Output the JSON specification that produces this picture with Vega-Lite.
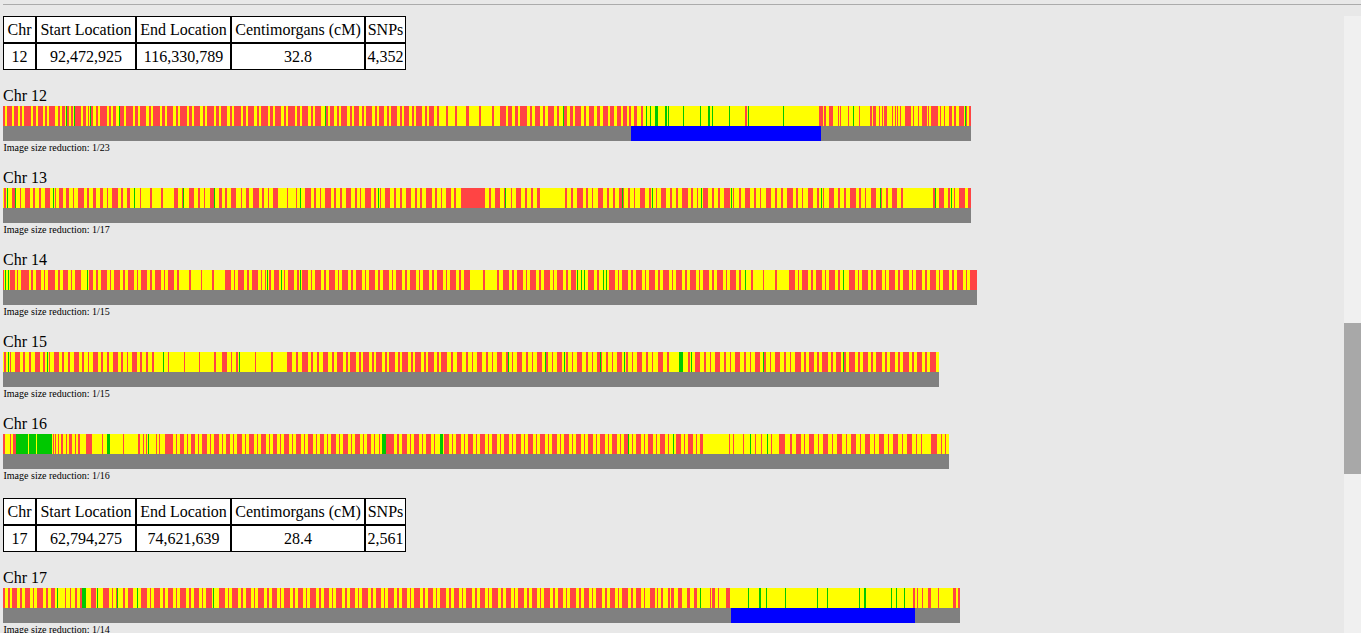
{
"$schema":"https://vega.github.io/schema/vega-lite/v6.json",
"background":"#e8e8e8",
"padding":{"left":3,"top":4,"right":0,"bottom":0},
"config":{"view":{"stroke":null},"font":"Liberation Serif",
 "title":{"anchor":"start","font":"Liberation Serif","fontSize":16,"fontWeight":"normal","color":"black","offset":2},
 "axis":{"labels":false,"ticks":false,"domain":false,"grid":false,"titleFont":"Liberation Serif","titleFontSize":10,"titleFontWeight":"normal","titleAnchor":"start","titlePadding":1,"titleColor":"black","minExtent":0}},
"datasets":{
"chrom":[{"c":12,"s":0,"e":968},{"c":13,"s":0,"e":968},{"c":14,"s":0,"e":974},{"c":15,"s":0,"e":936},{"c":16,"s":0,"e":946},{"c":17,"s":0,"e":957}],
"match":[{"c":12,"s":628,"e":818},{"c":17,"s":728,"e":912}],
"tbl":[
{"t":1,"col":"Chr","row":"h","txt":"Chr"},{"t":1,"col":"Chr","row":"v","txt":"12"},
{"t":1,"col":"Start","row":"h","txt":"Start Location"},{"t":1,"col":"Start","row":"v","txt":"92,472,925"},
{"t":1,"col":"End","row":"h","txt":"End Location"},{"t":1,"col":"End","row":"v","txt":"116,330,789"},
{"t":1,"col":"cM","row":"h","txt":"Centimorgans (cM)"},{"t":1,"col":"cM","row":"v","txt":"32.8"},
{"t":1,"col":"SNPs","row":"h","txt":"SNPs"},{"t":1,"col":"SNPs","row":"v","txt":"4,352"},
{"t":2,"col":"Chr","row":"h","txt":"Chr"},{"t":2,"col":"Chr","row":"v","txt":"17"},
{"t":2,"col":"Start","row":"h","txt":"Start Location"},{"t":2,"col":"Start","row":"v","txt":"62,794,275"},
{"t":2,"col":"End","row":"h","txt":"End Location"},{"t":2,"col":"End","row":"v","txt":"74,621,639"},
{"t":2,"col":"cM","row":"h","txt":"Centimorgans (cM)"},{"t":2,"col":"cM","row":"v","txt":"28.4"},
{"t":2,"col":"SNPs","row":"h","txt":"SNPs"},{"t":2,"col":"SNPs","row":"v","txt":"2,561"}],
"full":[
{"c":12,"s":63,"e":64},{"c":12,"s":71,"e":72},{"c":12,"s":87,"e":88},{"c":12,"s":116,"e":117},{"c":12,"s":322,"e":323},{"c":12,"s":560,"e":561},{"c":12,"s":643,"e":644},{"c":12,"s":647,"e":648},{"c":12,"s":652,"e":655},{"c":12,"s":662,"e":664},{"c":12,"s":665,"e":666},{"c":12,"s":680,"e":681},{"c":12,"s":697,"e":698},{"c":12,"s":705,"e":707},{"c":12,"s":709,"e":710},{"c":12,"s":726,"e":727},{"c":12,"s":745,"e":746},{"c":12,"s":780,"e":781},{"c":12,"s":850,"e":851},{"c":12,"s":962,"e":963},
{"c":13,"s":4,"e":5},{"c":13,"s":12,"e":13},{"c":13,"s":50,"e":51},{"c":13,"s":131,"e":132},{"c":13,"s":180,"e":181},{"c":13,"s":211,"e":212},{"c":13,"s":297,"e":298},{"c":13,"s":375,"e":376},{"c":13,"s":502,"e":503},{"c":13,"s":619,"e":620},{"c":13,"s":649,"e":650},{"c":13,"s":698,"e":699},{"c":13,"s":728,"e":729},{"c":13,"s":818,"e":819},{"c":13,"s":877,"e":878},{"c":13,"s":932,"e":933},{"c":13,"s":948,"e":949},
{"c":14,"s":2,"e":3},{"c":14,"s":5,"e":6},{"c":14,"s":84,"e":85},{"c":14,"s":264,"e":265},{"c":14,"s":278,"e":279},{"c":14,"s":297,"e":298},{"c":14,"s":574,"e":575},{"c":14,"s":578,"e":579},{"c":14,"s":581,"e":582},{"c":14,"s":600,"e":601},{"c":14,"s":603,"e":604},{"c":14,"s":742,"e":743},{"c":14,"s":840,"e":841},
{"c":15,"s":5,"e":6},{"c":15,"s":44,"e":45},{"c":15,"s":160,"e":161},{"c":15,"s":236,"e":237},{"c":15,"s":505,"e":506},{"c":15,"s":542,"e":543},{"c":15,"s":561,"e":562},{"c":15,"s":597,"e":598},{"c":15,"s":621,"e":622},{"c":15,"s":676,"e":680},{"c":15,"s":688,"e":689},{"c":15,"s":760,"e":761},{"c":15,"s":840,"e":841},
{"c":16,"s":13,"e":25},{"c":16,"s":26,"e":33},{"c":16,"s":34,"e":49},{"c":16,"s":104,"e":107},{"c":16,"s":145,"e":146},{"c":16,"s":379,"e":383},{"c":16,"s":437,"e":440},{"c":16,"s":625,"e":626},{"c":16,"s":670,"e":671},{"c":16,"s":747,"e":748},{"c":16,"s":764,"e":765},
{"c":17,"s":54,"e":55},{"c":17,"s":79,"e":83},{"c":17,"s":94,"e":95},{"c":17,"s":114,"e":115},{"c":17,"s":134,"e":135},{"c":17,"s":210,"e":211},{"c":17,"s":697,"e":698},{"c":17,"s":745,"e":746},{"c":17,"s":756,"e":758},{"c":17,"s":763,"e":764},{"c":17,"s":782,"e":783},{"c":17,"s":814,"e":815},{"c":17,"s":824,"e":825},{"c":17,"s":856,"e":857},{"c":17,"s":861,"e":863},{"c":17,"s":888,"e":889},{"c":17,"s":893,"e":894},{"c":17,"s":901,"e":902}],
"none":[
{"c":12,"s":0,"e":2},{"c":12,"s":4,"e":9},{"c":12,"s":11,"e":15},{"c":12,"s":17,"e":19},{"c":12,"s":21,"e":28},{"c":12,"s":30,"e":33},{"c":12,"s":35,"e":40},{"c":12,"s":42,"e":44},{"c":12,"s":46,"e":52},{"c":12,"s":55,"e":57},{"c":12,"s":59,"e":62},{"c":12,"s":64,"e":66},{"c":12,"s":68,"e":70},{"c":12,"s":72,"e":78},{"c":12,"s":80,"e":83},{"c":12,"s":85,"e":86},{"c":12,"s":88,"e":90},{"c":12,"s":93,"e":95},{"c":12,"s":97,"e":104},{"c":12,"s":106,"e":108},{"c":12,"s":110,"e":113},{"c":12,"s":117,"e":121},{"c":12,"s":123,"e":130},{"c":12,"s":132,"e":135},{"c":12,"s":137,"e":143},{"c":12,"s":146,"e":148},{"c":12,"s":150,"e":157},{"c":12,"s":159,"e":162},{"c":12,"s":164,"e":170},{"c":12,"s":173,"e":175},{"c":12,"s":177,"e":184},{"c":12,"s":186,"e":189},{"c":12,"s":191,"e":197},{"c":12,"s":200,"e":202},{"c":12,"s":204,"e":211},{"c":12,"s":213,"e":216},{"c":12,"s":218,"e":224},{"c":12,"s":227,"e":229},{"c":12,"s":231,"e":238},{"c":12,"s":240,"e":243},{"c":12,"s":245,"e":251},{"c":12,"s":254,"e":256},{"c":12,"s":258,"e":265},{"c":12,"s":267,"e":270},{"c":12,"s":272,"e":278},{"c":12,"s":281,"e":283},{"c":12,"s":285,"e":292},{"c":12,"s":294,"e":297},{"c":12,"s":299,"e":305},{"c":12,"s":308,"e":310},{"c":12,"s":312,"e":318},{"c":12,"s":323,"e":325},{"c":12,"s":327,"e":331},{"c":12,"s":334,"e":336},{"c":12,"s":338,"e":344},{"c":12,"s":347,"e":349},{"c":12,"s":351,"e":356},{"c":12,"s":359,"e":361},{"c":12,"s":363,"e":369},{"c":12,"s":372,"e":374},{"c":12,"s":376,"e":381},{"c":12,"s":384,"e":386},{"c":12,"s":388,"e":394},{"c":12,"s":397,"e":399},{"c":12,"s":401,"e":406},{"c":12,"s":409,"e":411},{"c":12,"s":413,"e":419},{"c":12,"s":422,"e":424},{"c":12,"s":426,"e":431},{"c":12,"s":434,"e":436},{"c":12,"s":443,"e":445},{"c":12,"s":452,"e":454},{"c":12,"s":463,"e":466},{"c":12,"s":476,"e":478},{"c":12,"s":489,"e":491},{"c":12,"s":497,"e":503},{"c":12,"s":505,"e":509},{"c":12,"s":512,"e":515},{"c":12,"s":517,"e":524},{"c":12,"s":527,"e":529},{"c":12,"s":532,"e":537},{"c":12,"s":540,"e":542},{"c":12,"s":545,"e":551},{"c":12,"s":554,"e":556},{"c":12,"s":561,"e":564},{"c":12,"s":567,"e":570},{"c":12,"s":572,"e":578},{"c":12,"s":581,"e":583},{"c":12,"s":586,"e":591},{"c":12,"s":594,"e":597},{"c":12,"s":600,"e":605},{"c":12,"s":607,"e":611},{"c":12,"s":614,"e":618},{"c":12,"s":620,"e":624},{"c":12,"s":626,"e":628},{"c":12,"s":631,"e":634},{"c":12,"s":638,"e":640},{"c":12,"s":742,"e":744},{"c":12,"s":816,"e":820},{"c":12,"s":821,"e":823},{"c":12,"s":826,"e":830},{"c":12,"s":835,"e":836},{"c":12,"s":837,"e":838},{"c":12,"s":845,"e":846},{"c":12,"s":856,"e":857},{"c":12,"s":867,"e":869},{"c":12,"s":870,"e":873},{"c":12,"s":876,"e":877},{"c":12,"s":879,"e":880},{"c":12,"s":881,"e":884},{"c":12,"s":889,"e":890},{"c":12,"s":892,"e":893},{"c":12,"s":894,"e":895},{"c":12,"s":897,"e":898},{"c":12,"s":902,"e":908},{"c":12,"s":910,"e":911},{"c":12,"s":915,"e":916},{"c":12,"s":919,"e":924},{"c":12,"s":925,"e":926},{"c":12,"s":928,"e":935},{"c":12,"s":937,"e":938},{"c":12,"s":941,"e":942},{"c":12,"s":946,"e":949},{"c":12,"s":951,"e":953},{"c":12,"s":956,"e":961},{"c":12,"s":963,"e":964},{"c":12,"s":966,"e":968},
{"c":13,"s":1,"e":3},{"c":13,"s":9,"e":12},{"c":13,"s":17,"e":18},{"c":13,"s":22,"e":27},{"c":13,"s":30,"e":32},{"c":13,"s":36,"e":38},{"c":13,"s":42,"e":47},{"c":13,"s":52,"e":53},{"c":13,"s":56,"e":60},{"c":13,"s":63,"e":66},{"c":13,"s":70,"e":71},{"c":13,"s":75,"e":81},{"c":13,"s":84,"e":86},{"c":13,"s":90,"e":93},{"c":13,"s":97,"e":100},{"c":13,"s":104,"e":105},{"c":13,"s":109,"e":115},{"c":13,"s":118,"e":120},{"c":13,"s":124,"e":127},{"c":13,"s":137,"e":138},{"c":13,"s":147,"e":149},{"c":13,"s":158,"e":160},{"c":13,"s":171,"e":175},{"c":13,"s":179,"e":181},{"c":13,"s":186,"e":191},{"c":13,"s":195,"e":197},{"c":13,"s":201,"e":202},{"c":13,"s":207,"e":212},{"c":13,"s":216,"e":219},{"c":13,"s":222,"e":224},{"c":13,"s":228,"e":233},{"c":13,"s":238,"e":239},{"c":13,"s":243,"e":246},{"c":13,"s":250,"e":256},{"c":13,"s":259,"e":261},{"c":13,"s":265,"e":266},{"c":13,"s":270,"e":275},{"c":13,"s":284,"e":285},{"c":13,"s":293,"e":294},{"c":13,"s":302,"e":308},{"c":13,"s":311,"e":313},{"c":13,"s":317,"e":318},{"c":13,"s":322,"e":328},{"c":13,"s":331,"e":333},{"c":13,"s":337,"e":339},{"c":13,"s":343,"e":348},{"c":13,"s":352,"e":354},{"c":13,"s":357,"e":358},{"c":13,"s":362,"e":368},{"c":13,"s":371,"e":373},{"c":13,"s":377,"e":378},{"c":13,"s":382,"e":387},{"c":13,"s":391,"e":393},{"c":13,"s":397,"e":399},{"c":13,"s":403,"e":408},{"c":13,"s":412,"e":414},{"c":13,"s":417,"e":419},{"c":13,"s":423,"e":429},{"c":13,"s":432,"e":434},{"c":13,"s":438,"e":439},{"c":13,"s":443,"e":448},{"c":13,"s":451,"e":453},{"c":13,"s":458,"e":482},{"c":13,"s":486,"e":488},{"c":13,"s":492,"e":497},{"c":13,"s":501,"e":503},{"c":13,"s":508,"e":509},{"c":13,"s":513,"e":518},{"c":13,"s":522,"e":524},{"c":13,"s":528,"e":530},{"c":13,"s":534,"e":537},{"c":13,"s":562,"e":564},{"c":13,"s":568,"e":570},{"c":13,"s":574,"e":580},{"c":13,"s":583,"e":585},{"c":13,"s":589,"e":590},{"c":13,"s":595,"e":600},{"c":13,"s":604,"e":606},{"c":13,"s":610,"e":612},{"c":13,"s":616,"e":621},{"c":13,"s":625,"e":627},{"c":13,"s":631,"e":632},{"c":13,"s":637,"e":642},{"c":13,"s":646,"e":648},{"c":13,"s":653,"e":654},{"c":13,"s":658,"e":663},{"c":13,"s":667,"e":669},{"c":13,"s":673,"e":675},{"c":13,"s":679,"e":685},{"c":13,"s":688,"e":690},{"c":13,"s":694,"e":695},{"c":13,"s":700,"e":705},{"c":13,"s":709,"e":711},{"c":13,"s":715,"e":717},{"c":13,"s":721,"e":727},{"c":13,"s":730,"e":731},{"c":13,"s":736,"e":738},{"c":13,"s":742,"e":747},{"c":13,"s":751,"e":753},{"c":13,"s":757,"e":758},{"c":13,"s":763,"e":768},{"c":13,"s":772,"e":774},{"c":13,"s":778,"e":780},{"c":13,"s":784,"e":790},{"c":13,"s":793,"e":795},{"c":13,"s":799,"e":800},{"c":13,"s":805,"e":810},{"c":13,"s":814,"e":816},{"c":13,"s":820,"e":821},{"c":13,"s":826,"e":831},{"c":13,"s":835,"e":837},{"c":13,"s":841,"e":843},{"c":13,"s":847,"e":853},{"c":13,"s":856,"e":858},{"c":13,"s":862,"e":863},{"c":13,"s":868,"e":873},{"c":13,"s":877,"e":879},{"c":13,"s":883,"e":885},{"c":13,"s":889,"e":894},{"c":13,"s":898,"e":900},{"c":13,"s":930,"e":932},{"c":13,"s":936,"e":941},{"c":13,"s":945,"e":947},{"c":13,"s":951,"e":952},{"c":13,"s":956,"e":962},{"c":13,"s":965,"e":968},
{"c":14,"s":0,"e":1},{"c":14,"s":7,"e":12},{"c":14,"s":14,"e":15},{"c":14,"s":18,"e":26},{"c":14,"s":28,"e":30},{"c":14,"s":33,"e":38},{"c":14,"s":41,"e":42},{"c":14,"s":45,"e":52},{"c":14,"s":55,"e":57},{"c":14,"s":60,"e":65},{"c":14,"s":68,"e":69},{"c":14,"s":72,"e":78},{"c":14,"s":86,"e":90},{"c":14,"s":93,"e":95},{"c":14,"s":98,"e":104},{"c":14,"s":107,"e":108},{"c":14,"s":111,"e":117},{"c":14,"s":120,"e":122},{"c":14,"s":125,"e":131},{"c":14,"s":134,"e":135},{"c":14,"s":138,"e":144},{"c":14,"s":147,"e":149},{"c":14,"s":152,"e":158},{"c":14,"s":161,"e":162},{"c":14,"s":165,"e":171},{"c":14,"s":174,"e":176},{"c":14,"s":186,"e":188},{"c":14,"s":198,"e":199},{"c":14,"s":209,"e":211},{"c":14,"s":222,"e":228},{"c":14,"s":231,"e":232},{"c":14,"s":235,"e":241},{"c":14,"s":244,"e":246},{"c":14,"s":249,"e":255},{"c":14,"s":258,"e":259},{"c":14,"s":262,"e":263},{"c":14,"s":266,"e":268},{"c":14,"s":271,"e":276},{"c":14,"s":281,"e":282},{"c":14,"s":285,"e":291},{"c":14,"s":294,"e":296},{"c":14,"s":299,"e":305},{"c":14,"s":308,"e":309},{"c":14,"s":312,"e":318},{"c":14,"s":321,"e":323},{"c":14,"s":326,"e":332},{"c":14,"s":335,"e":336},{"c":14,"s":339,"e":345},{"c":14,"s":348,"e":350},{"c":14,"s":353,"e":359},{"c":14,"s":362,"e":363},{"c":14,"s":366,"e":372},{"c":14,"s":375,"e":377},{"c":14,"s":380,"e":386},{"c":14,"s":389,"e":390},{"c":14,"s":393,"e":399},{"c":14,"s":402,"e":404},{"c":14,"s":407,"e":413},{"c":14,"s":416,"e":417},{"c":14,"s":420,"e":426},{"c":14,"s":429,"e":431},{"c":14,"s":434,"e":440},{"c":14,"s":443,"e":444},{"c":14,"s":447,"e":453},{"c":14,"s":456,"e":458},{"c":14,"s":461,"e":467},{"c":14,"s":480,"e":482},{"c":14,"s":494,"e":496},{"c":14,"s":500,"e":506},{"c":14,"s":509,"e":511},{"c":14,"s":514,"e":520},{"c":14,"s":523,"e":524},{"c":14,"s":527,"e":533},{"c":14,"s":536,"e":538},{"c":14,"s":541,"e":547},{"c":14,"s":550,"e":551},{"c":14,"s":554,"e":560},{"c":14,"s":563,"e":565},{"c":14,"s":568,"e":573},{"c":14,"s":585,"e":591},{"c":14,"s":594,"e":596},{"c":14,"s":606,"e":612},{"c":14,"s":615,"e":616},{"c":14,"s":619,"e":625},{"c":14,"s":628,"e":630},{"c":14,"s":633,"e":639},{"c":14,"s":642,"e":643},{"c":14,"s":646,"e":652},{"c":14,"s":655,"e":657},{"c":14,"s":660,"e":666},{"c":14,"s":669,"e":670},{"c":14,"s":673,"e":679},{"c":14,"s":682,"e":684},{"c":14,"s":687,"e":693},{"c":14,"s":696,"e":697},{"c":14,"s":700,"e":706},{"c":14,"s":709,"e":711},{"c":14,"s":714,"e":720},{"c":14,"s":723,"e":724},{"c":14,"s":727,"e":733},{"c":14,"s":736,"e":738},{"c":14,"s":748,"e":750},{"c":14,"s":760,"e":761},{"c":14,"s":772,"e":774},{"c":14,"s":786,"e":792},{"c":14,"s":795,"e":796},{"c":14,"s":799,"e":805},{"c":14,"s":808,"e":810},{"c":14,"s":813,"e":819},{"c":14,"s":822,"e":823},{"c":14,"s":826,"e":832},{"c":14,"s":835,"e":837},{"c":14,"s":846,"e":852},{"c":14,"s":855,"e":856},{"c":14,"s":859,"e":865},{"c":14,"s":868,"e":870},{"c":14,"s":873,"e":879},{"c":14,"s":882,"e":883},{"c":14,"s":886,"e":892},{"c":14,"s":895,"e":897},{"c":14,"s":900,"e":906},{"c":14,"s":909,"e":910},{"c":14,"s":913,"e":919},{"c":14,"s":922,"e":924},{"c":14,"s":927,"e":933},{"c":14,"s":936,"e":937},{"c":14,"s":940,"e":946},{"c":14,"s":949,"e":951},{"c":14,"s":954,"e":960},{"c":14,"s":963,"e":964},{"c":14,"s":967,"e":974},
{"c":15,"s":1,"e":3},{"c":15,"s":7,"e":8},{"c":15,"s":12,"e":17},{"c":15,"s":20,"e":22},{"c":15,"s":26,"e":28},{"c":15,"s":32,"e":37},{"c":15,"s":40,"e":42},{"c":15,"s":46,"e":47},{"c":15,"s":51,"e":56},{"c":15,"s":59,"e":61},{"c":15,"s":65,"e":67},{"c":15,"s":71,"e":76},{"c":15,"s":79,"e":81},{"c":15,"s":85,"e":86},{"c":15,"s":90,"e":95},{"c":15,"s":98,"e":100},{"c":15,"s":104,"e":106},{"c":15,"s":110,"e":115},{"c":15,"s":118,"e":120},{"c":15,"s":124,"e":125},{"c":15,"s":129,"e":134},{"c":15,"s":137,"e":139},{"c":15,"s":143,"e":145},{"c":15,"s":149,"e":151},{"c":15,"s":165,"e":166},{"c":15,"s":181,"e":182},{"c":15,"s":196,"e":197},{"c":15,"s":211,"e":213},{"c":15,"s":219,"e":224},{"c":15,"s":228,"e":229},{"c":15,"s":233,"e":235},{"c":15,"s":252,"e":253},{"c":15,"s":268,"e":270},{"c":15,"s":284,"e":289},{"c":15,"s":293,"e":295},{"c":15,"s":299,"e":305},{"c":15,"s":308,"e":310},{"c":15,"s":314,"e":316},{"c":15,"s":320,"e":325},{"c":15,"s":329,"e":331},{"c":15,"s":334,"e":340},{"c":15,"s":343,"e":345},{"c":15,"s":347,"e":353},{"c":15,"s":356,"e":358},{"c":15,"s":360,"e":366},{"c":15,"s":369,"e":371},{"c":15,"s":373,"e":379},{"c":15,"s":382,"e":384},{"c":15,"s":386,"e":392},{"c":15,"s":395,"e":397},{"c":15,"s":399,"e":405},{"c":15,"s":408,"e":410},{"c":15,"s":412,"e":418},{"c":15,"s":421,"e":423},{"c":15,"s":425,"e":431},{"c":15,"s":434,"e":436},{"c":15,"s":438,"e":444},{"c":15,"s":448,"e":450},{"c":15,"s":454,"e":459},{"c":15,"s":463,"e":465},{"c":15,"s":469,"e":470},{"c":15,"s":474,"e":479},{"c":15,"s":483,"e":485},{"c":15,"s":489,"e":490},{"c":15,"s":494,"e":499},{"c":15,"s":503,"e":505},{"c":15,"s":509,"e":510},{"c":15,"s":514,"e":519},{"c":15,"s":523,"e":525},{"c":15,"s":529,"e":530},{"c":15,"s":534,"e":539},{"c":15,"s":543,"e":545},{"c":15,"s":549,"e":550},{"c":15,"s":554,"e":559},{"c":15,"s":563,"e":565},{"c":15,"s":569,"e":570},{"c":15,"s":574,"e":579},{"c":15,"s":583,"e":585},{"c":15,"s":589,"e":590},{"c":15,"s":594,"e":599},{"c":15,"s":603,"e":605},{"c":15,"s":609,"e":610},{"c":15,"s":614,"e":619},{"c":15,"s":623,"e":625},{"c":15,"s":629,"e":630},{"c":15,"s":634,"e":639},{"c":15,"s":643,"e":645},{"c":15,"s":649,"e":650},{"c":15,"s":655,"e":660},{"c":15,"s":664,"e":666},{"c":15,"s":685,"e":687},{"c":15,"s":692,"e":697},{"c":15,"s":701,"e":703},{"c":15,"s":707,"e":708},{"c":15,"s":712,"e":717},{"c":15,"s":721,"e":723},{"c":15,"s":727,"e":728},{"c":15,"s":732,"e":737},{"c":15,"s":741,"e":743},{"c":15,"s":747,"e":748},{"c":15,"s":752,"e":757},{"c":15,"s":761,"e":763},{"c":15,"s":767,"e":768},{"c":15,"s":772,"e":777},{"c":15,"s":781,"e":783},{"c":15,"s":787,"e":788},{"c":15,"s":792,"e":798},{"c":15,"s":801,"e":803},{"c":15,"s":806,"e":811},{"c":15,"s":814,"e":816},{"c":15,"s":819,"e":825},{"c":15,"s":828,"e":830},{"c":15,"s":833,"e":838},{"c":15,"s":841,"e":843},{"c":15,"s":846,"e":852},{"c":15,"s":855,"e":857},{"c":15,"s":860,"e":865},{"c":15,"s":868,"e":870},{"c":15,"s":873,"e":879},{"c":15,"s":882,"e":884},{"c":15,"s":887,"e":892},{"c":15,"s":895,"e":897},{"c":15,"s":900,"e":906},{"c":15,"s":909,"e":911},{"c":15,"s":914,"e":919},{"c":15,"s":922,"e":924},{"c":15,"s":927,"e":933},
{"c":16,"s":0,"e":2},{"c":16,"s":7,"e":8},{"c":16,"s":10,"e":13},{"c":16,"s":50,"e":51},{"c":16,"s":52,"e":53},{"c":16,"s":55,"e":56},{"c":16,"s":58,"e":60},{"c":16,"s":63,"e":64},{"c":16,"s":66,"e":69},{"c":16,"s":72,"e":73},{"c":16,"s":75,"e":77},{"c":16,"s":83,"e":89},{"c":16,"s":99,"e":100},{"c":16,"s":120,"e":121},{"c":16,"s":135,"e":137},{"c":16,"s":140,"e":141},{"c":16,"s":143,"e":144},{"c":16,"s":153,"e":154},{"c":16,"s":156,"e":157},{"c":16,"s":162,"e":170},{"c":16,"s":173,"e":174},{"c":16,"s":177,"e":181},{"c":16,"s":184,"e":185},{"c":16,"s":188,"e":192},{"c":16,"s":195,"e":196},{"c":16,"s":199,"e":204},{"c":16,"s":207,"e":208},{"c":16,"s":211,"e":216},{"c":16,"s":219,"e":220},{"c":16,"s":223,"e":227},{"c":16,"s":230,"e":231},{"c":16,"s":234,"e":239},{"c":16,"s":242,"e":243},{"c":16,"s":246,"e":251},{"c":16,"s":254,"e":255},{"c":16,"s":258,"e":263},{"c":16,"s":266,"e":267},{"c":16,"s":270,"e":274},{"c":16,"s":277,"e":278},{"c":16,"s":281,"e":286},{"c":16,"s":289,"e":290},{"c":16,"s":293,"e":298},{"c":16,"s":301,"e":302},{"c":16,"s":305,"e":310},{"c":16,"s":313,"e":314},{"c":16,"s":317,"e":321},{"c":16,"s":324,"e":325},{"c":16,"s":328,"e":333},{"c":16,"s":336,"e":337},{"c":16,"s":340,"e":345},{"c":16,"s":348,"e":349},{"c":16,"s":352,"e":357},{"c":16,"s":360,"e":361},{"c":16,"s":364,"e":368},{"c":16,"s":371,"e":372},{"c":16,"s":376,"e":377},{"c":16,"s":381,"e":391},{"c":16,"s":394,"e":396},{"c":16,"s":399,"e":404},{"c":16,"s":407,"e":408},{"c":16,"s":411,"e":416},{"c":16,"s":419,"e":420},{"c":16,"s":423,"e":428},{"c":16,"s":431,"e":432},{"c":16,"s":441,"e":446},{"c":16,"s":449,"e":450},{"c":16,"s":453,"e":458},{"c":16,"s":461,"e":462},{"c":16,"s":465,"e":470},{"c":16,"s":473,"e":474},{"c":16,"s":477,"e":482},{"c":16,"s":485,"e":486},{"c":16,"s":489,"e":494},{"c":16,"s":497,"e":498},{"c":16,"s":501,"e":506},{"c":16,"s":509,"e":510},{"c":16,"s":513,"e":518},{"c":16,"s":521,"e":522},{"c":16,"s":525,"e":530},{"c":16,"s":533,"e":534},{"c":16,"s":537,"e":542},{"c":16,"s":545,"e":546},{"c":16,"s":549,"e":554},{"c":16,"s":557,"e":558},{"c":16,"s":561,"e":566},{"c":16,"s":569,"e":570},{"c":16,"s":573,"e":578},{"c":16,"s":581,"e":582},{"c":16,"s":585,"e":590},{"c":16,"s":593,"e":594},{"c":16,"s":597,"e":602},{"c":16,"s":605,"e":606},{"c":16,"s":609,"e":614},{"c":16,"s":617,"e":618},{"c":16,"s":621,"e":626},{"c":16,"s":629,"e":630},{"c":16,"s":633,"e":638},{"c":16,"s":641,"e":642},{"c":16,"s":645,"e":650},{"c":16,"s":653,"e":654},{"c":16,"s":657,"e":662},{"c":16,"s":665,"e":666},{"c":16,"s":673,"e":678},{"c":16,"s":681,"e":682},{"c":16,"s":685,"e":690},{"c":16,"s":693,"e":694},{"c":16,"s":697,"e":700},{"c":16,"s":726,"e":727},{"c":16,"s":730,"e":731},{"c":16,"s":740,"e":741},{"c":16,"s":752,"e":753},{"c":16,"s":758,"e":759},{"c":16,"s":768,"e":769},{"c":16,"s":776,"e":782},{"c":16,"s":787,"e":789},{"c":16,"s":793,"e":798},{"c":16,"s":801,"e":802},{"c":16,"s":806,"e":811},{"c":16,"s":815,"e":816},{"c":16,"s":820,"e":825},{"c":16,"s":829,"e":830},{"c":16,"s":834,"e":839},{"c":16,"s":843,"e":844},{"c":16,"s":848,"e":853},{"c":16,"s":857,"e":858},{"c":16,"s":862,"e":867},{"c":16,"s":871,"e":872},{"c":16,"s":876,"e":881},{"c":16,"s":885,"e":886},{"c":16,"s":890,"e":895},{"c":16,"s":899,"e":900},{"c":16,"s":904,"e":909},{"c":16,"s":913,"e":914},{"c":16,"s":918,"e":919},{"c":16,"s":928,"e":934},{"c":16,"s":938,"e":939},{"c":16,"s":942,"e":943},
{"c":17,"s":0,"e":2},{"c":17,"s":5,"e":7},{"c":17,"s":9,"e":14},{"c":17,"s":17,"e":19},{"c":17,"s":22,"e":27},{"c":17,"s":30,"e":31},{"c":17,"s":34,"e":40},{"c":17,"s":43,"e":45},{"c":17,"s":48,"e":52},{"c":17,"s":62,"e":63},{"c":17,"s":67,"e":68},{"c":17,"s":72,"e":74},{"c":17,"s":77,"e":79},{"c":17,"s":88,"e":93},{"c":17,"s":100,"e":106},{"c":17,"s":109,"e":110},{"c":17,"s":113,"e":114},{"c":17,"s":120,"e":122},{"c":17,"s":125,"e":130},{"c":17,"s":138,"e":144},{"c":17,"s":147,"e":148},{"c":17,"s":151,"e":157},{"c":17,"s":160,"e":162},{"c":17,"s":165,"e":170},{"c":17,"s":173,"e":174},{"c":17,"s":177,"e":183},{"c":17,"s":186,"e":188},{"c":17,"s":191,"e":196},{"c":17,"s":199,"e":200},{"c":17,"s":203,"e":209},{"c":17,"s":216,"e":222},{"c":17,"s":225,"e":226},{"c":17,"s":229,"e":235},{"c":17,"s":238,"e":240},{"c":17,"s":243,"e":248},{"c":17,"s":251,"e":252},{"c":17,"s":255,"e":261},{"c":17,"s":264,"e":266},{"c":17,"s":269,"e":274},{"c":17,"s":277,"e":278},{"c":17,"s":281,"e":287},{"c":17,"s":290,"e":292},{"c":17,"s":295,"e":300},{"c":17,"s":303,"e":304},{"c":17,"s":307,"e":313},{"c":17,"s":316,"e":318},{"c":17,"s":321,"e":326},{"c":17,"s":329,"e":330},{"c":17,"s":333,"e":339},{"c":17,"s":342,"e":344},{"c":17,"s":347,"e":352},{"c":17,"s":355,"e":356},{"c":17,"s":359,"e":365},{"c":17,"s":368,"e":370},{"c":17,"s":373,"e":378},{"c":17,"s":381,"e":382},{"c":17,"s":385,"e":391},{"c":17,"s":394,"e":396},{"c":17,"s":399,"e":404},{"c":17,"s":407,"e":408},{"c":17,"s":411,"e":417},{"c":17,"s":420,"e":422},{"c":17,"s":425,"e":430},{"c":17,"s":433,"e":434},{"c":17,"s":437,"e":443},{"c":17,"s":446,"e":448},{"c":17,"s":451,"e":456},{"c":17,"s":459,"e":460},{"c":17,"s":463,"e":469},{"c":17,"s":472,"e":474},{"c":17,"s":477,"e":482},{"c":17,"s":485,"e":486},{"c":17,"s":489,"e":495},{"c":17,"s":498,"e":500},{"c":17,"s":503,"e":508},{"c":17,"s":511,"e":512},{"c":17,"s":515,"e":521},{"c":17,"s":524,"e":526},{"c":17,"s":529,"e":534},{"c":17,"s":537,"e":538},{"c":17,"s":541,"e":547},{"c":17,"s":550,"e":552},{"c":17,"s":555,"e":560},{"c":17,"s":563,"e":564},{"c":17,"s":567,"e":573},{"c":17,"s":576,"e":578},{"c":17,"s":581,"e":586},{"c":17,"s":589,"e":590},{"c":17,"s":593,"e":599},{"c":17,"s":602,"e":604},{"c":17,"s":607,"e":612},{"c":17,"s":615,"e":616},{"c":17,"s":619,"e":625},{"c":17,"s":628,"e":630},{"c":17,"s":633,"e":638},{"c":17,"s":641,"e":642},{"c":17,"s":647,"e":652},{"c":17,"s":654,"e":655},{"c":17,"s":658,"e":660},{"c":17,"s":665,"e":667},{"c":17,"s":668,"e":671},{"c":17,"s":675,"e":679},{"c":17,"s":684,"e":687},{"c":17,"s":691,"e":694},{"c":17,"s":707,"e":708},{"c":17,"s":709,"e":712},{"c":17,"s":715,"e":716},{"c":17,"s":723,"e":727},{"c":17,"s":910,"e":912},{"c":17,"s":914,"e":915},{"c":17,"s":919,"e":920},{"c":17,"s":925,"e":928},{"c":17,"s":935,"e":936},{"c":17,"s":950,"e":953},{"c":17,"s":955,"e":957}]
},
"spacing":11,
"vconcat":[
{"width":1358,"height":1,"data":{"values":[{"line":"top"}]},"mark":{"type":"rect","color":"#ababab"},"encoding":{}},
{"spacing":367,"hconcat":[
{"spacing":18,"vconcat":[
{"spacing":0,"hconcat":[
{"width":33,"height":54,"data":{"name":"tbl"},"transform":[{"filter":"datum.t==1 && datum.col=='Chr'"}],"encoding":{"y":{"field":"row","type":"nominal","scale":{"domain":["h","v"],"paddingInner":0,"paddingOuter":0},"axis":null}},"layer":[{"mark":{"type":"rect","fill":"white","stroke":"black","strokeWidth":2,"clip":true}},{"mark":{"type":"text","font":"Liberation Serif","fontSize":16,"color":"black"},"encoding":{"text":{"field":"txt"}}}]},
{"width":100,"height":54,"data":{"name":"tbl"},"transform":[{"filter":"datum.t==1 && datum.col=='Start'"}],"encoding":{"y":{"field":"row","type":"nominal","scale":{"domain":["h","v"],"paddingInner":0,"paddingOuter":0},"axis":null}},"layer":[{"mark":{"type":"rect","fill":"white","stroke":"black","strokeWidth":2,"clip":true}},{"mark":{"type":"text","font":"Liberation Serif","fontSize":16,"color":"black"},"encoding":{"text":{"field":"txt"}}}]},
{"width":95,"height":54,"data":{"name":"tbl"},"transform":[{"filter":"datum.t==1 && datum.col=='End'"}],"encoding":{"y":{"field":"row","type":"nominal","scale":{"domain":["h","v"],"paddingInner":0,"paddingOuter":0},"axis":null}},"layer":[{"mark":{"type":"rect","fill":"white","stroke":"black","strokeWidth":2,"clip":true}},{"mark":{"type":"text","font":"Liberation Serif","fontSize":16,"color":"black"},"encoding":{"text":{"field":"txt"}}}]},
{"width":134,"height":54,"data":{"name":"tbl"},"transform":[{"filter":"datum.t==1 && datum.col=='cM'"}],"encoding":{"y":{"field":"row","type":"nominal","scale":{"domain":["h","v"],"paddingInner":0,"paddingOuter":0},"axis":null}},"layer":[{"mark":{"type":"rect","fill":"white","stroke":"black","strokeWidth":2,"clip":true}},{"mark":{"type":"text","font":"Liberation Serif","fontSize":16,"color":"black"},"encoding":{"text":{"field":"txt"}}}]},
{"width":41,"height":54,"data":{"name":"tbl"},"transform":[{"filter":"datum.t==1 && datum.col=='SNPs'"}],"encoding":{"y":{"field":"row","type":"nominal","scale":{"domain":["h","v"],"paddingInner":0,"paddingOuter":0},"axis":null}},"layer":[{"mark":{"type":"rect","fill":"white","stroke":"black","strokeWidth":2,"clip":true}},{"mark":{"type":"text","font":"Liberation Serif","fontSize":16,"color":"black"},"encoding":{"text":{"field":"txt"}}}]}
]},
{"spacing":0,"vconcat":[
{"width":968,"height":20,"title":"Chr 12","encoding":{"x":{"field":"s","type":"quantitative","scale":{"domain":[0,968],"nice":false,"zero":false},"axis":null},"x2":{"field":"e"}},"layer":[
{"data":{"name":"chrom"},"transform":[{"filter":"datum.c==12"}],"mark":{"type":"rect","color":"#ffff00"}},
{"data":{"name":"none"},"transform":[{"filter":"datum.c==12"}],"mark":{"type":"rect","color":"#ff4444"}},
{"data":{"name":"full"},"transform":[{"filter":"datum.c==12"}],"mark":{"type":"rect","color":"#00c800"}}]},
{"width":968,"height":15,"encoding":{"x":{"field":"s","type":"quantitative","scale":{"domain":[0,968],"nice":false,"zero":false},"axis":{"title":"Image size reduction: 1/23"}},"x2":{"field":"e"}},"layer":[
{"data":{"name":"chrom"},"transform":[{"filter":"datum.c==12"}],"mark":{"type":"rect","color":"#808080"}},
{"data":{"name":"match"},"transform":[{"filter":"datum.c==12"}],"mark":{"type":"rect","color":"#0000ff"}}]}
]},
{"spacing":0,"vconcat":[
{"width":968,"height":20,"title":"Chr 13","encoding":{"x":{"field":"s","type":"quantitative","scale":{"domain":[0,968],"nice":false,"zero":false},"axis":null},"x2":{"field":"e"}},"layer":[
{"data":{"name":"chrom"},"transform":[{"filter":"datum.c==13"}],"mark":{"type":"rect","color":"#ffff00"}},
{"data":{"name":"none"},"transform":[{"filter":"datum.c==13"}],"mark":{"type":"rect","color":"#ff4444"}},
{"data":{"name":"full"},"transform":[{"filter":"datum.c==13"}],"mark":{"type":"rect","color":"#00c800"}}]},
{"width":968,"height":15,"encoding":{"x":{"field":"s","type":"quantitative","scale":{"domain":[0,968],"nice":false,"zero":false},"axis":{"title":"Image size reduction: 1/17"}},"x2":{"field":"e"}},"layer":[
{"data":{"name":"chrom"},"transform":[{"filter":"datum.c==13"}],"mark":{"type":"rect","color":"#808080"}}]}
]},
{"spacing":0,"vconcat":[
{"width":974,"height":20,"title":"Chr 14","encoding":{"x":{"field":"s","type":"quantitative","scale":{"domain":[0,974],"nice":false,"zero":false},"axis":null},"x2":{"field":"e"}},"layer":[
{"data":{"name":"chrom"},"transform":[{"filter":"datum.c==14"}],"mark":{"type":"rect","color":"#ffff00"}},
{"data":{"name":"none"},"transform":[{"filter":"datum.c==14"}],"mark":{"type":"rect","color":"#ff4444"}},
{"data":{"name":"full"},"transform":[{"filter":"datum.c==14"}],"mark":{"type":"rect","color":"#00c800"}}]},
{"width":974,"height":15,"encoding":{"x":{"field":"s","type":"quantitative","scale":{"domain":[0,974],"nice":false,"zero":false},"axis":{"title":"Image size reduction: 1/15"}},"x2":{"field":"e"}},"layer":[
{"data":{"name":"chrom"},"transform":[{"filter":"datum.c==14"}],"mark":{"type":"rect","color":"#808080"}}]}
]},
{"spacing":0,"vconcat":[
{"width":936,"height":20,"title":"Chr 15","encoding":{"x":{"field":"s","type":"quantitative","scale":{"domain":[0,936],"nice":false,"zero":false},"axis":null},"x2":{"field":"e"}},"layer":[
{"data":{"name":"chrom"},"transform":[{"filter":"datum.c==15"}],"mark":{"type":"rect","color":"#ffff00"}},
{"data":{"name":"none"},"transform":[{"filter":"datum.c==15"}],"mark":{"type":"rect","color":"#ff4444"}},
{"data":{"name":"full"},"transform":[{"filter":"datum.c==15"}],"mark":{"type":"rect","color":"#00c800"}}]},
{"width":936,"height":15,"encoding":{"x":{"field":"s","type":"quantitative","scale":{"domain":[0,936],"nice":false,"zero":false},"axis":{"title":"Image size reduction: 1/15"}},"x2":{"field":"e"}},"layer":[
{"data":{"name":"chrom"},"transform":[{"filter":"datum.c==15"}],"mark":{"type":"rect","color":"#808080"}}]}
]},
{"spacing":0,"vconcat":[
{"width":946,"height":20,"title":"Chr 16","encoding":{"x":{"field":"s","type":"quantitative","scale":{"domain":[0,946],"nice":false,"zero":false},"axis":null},"x2":{"field":"e"}},"layer":[
{"data":{"name":"chrom"},"transform":[{"filter":"datum.c==16"}],"mark":{"type":"rect","color":"#ffff00"}},
{"data":{"name":"none"},"transform":[{"filter":"datum.c==16"}],"mark":{"type":"rect","color":"#ff4444"}},
{"data":{"name":"full"},"transform":[{"filter":"datum.c==16"}],"mark":{"type":"rect","color":"#00c800"}}]},
{"width":946,"height":15,"encoding":{"x":{"field":"s","type":"quantitative","scale":{"domain":[0,946],"nice":false,"zero":false},"axis":{"title":"Image size reduction: 1/16"}},"x2":{"field":"e"}},"layer":[
{"data":{"name":"chrom"},"transform":[{"filter":"datum.c==16"}],"mark":{"type":"rect","color":"#808080"}}]}
]},
{"spacing":0,"hconcat":[
{"width":33,"height":54,"data":{"name":"tbl"},"transform":[{"filter":"datum.t==2 && datum.col=='Chr'"}],"encoding":{"y":{"field":"row","type":"nominal","scale":{"domain":["h","v"],"paddingInner":0,"paddingOuter":0},"axis":null}},"layer":[{"mark":{"type":"rect","fill":"white","stroke":"black","strokeWidth":2,"clip":true}},{"mark":{"type":"text","font":"Liberation Serif","fontSize":16,"color":"black"},"encoding":{"text":{"field":"txt"}}}]},
{"width":100,"height":54,"data":{"name":"tbl"},"transform":[{"filter":"datum.t==2 && datum.col=='Start'"}],"encoding":{"y":{"field":"row","type":"nominal","scale":{"domain":["h","v"],"paddingInner":0,"paddingOuter":0},"axis":null}},"layer":[{"mark":{"type":"rect","fill":"white","stroke":"black","strokeWidth":2,"clip":true}},{"mark":{"type":"text","font":"Liberation Serif","fontSize":16,"color":"black"},"encoding":{"text":{"field":"txt"}}}]},
{"width":95,"height":54,"data":{"name":"tbl"},"transform":[{"filter":"datum.t==2 && datum.col=='End'"}],"encoding":{"y":{"field":"row","type":"nominal","scale":{"domain":["h","v"],"paddingInner":0,"paddingOuter":0},"axis":null}},"layer":[{"mark":{"type":"rect","fill":"white","stroke":"black","strokeWidth":2,"clip":true}},{"mark":{"type":"text","font":"Liberation Serif","fontSize":16,"color":"black"},"encoding":{"text":{"field":"txt"}}}]},
{"width":134,"height":54,"data":{"name":"tbl"},"transform":[{"filter":"datum.t==2 && datum.col=='cM'"}],"encoding":{"y":{"field":"row","type":"nominal","scale":{"domain":["h","v"],"paddingInner":0,"paddingOuter":0},"axis":null}},"layer":[{"mark":{"type":"rect","fill":"white","stroke":"black","strokeWidth":2,"clip":true}},{"mark":{"type":"text","font":"Liberation Serif","fontSize":16,"color":"black"},"encoding":{"text":{"field":"txt"}}}]},
{"width":41,"height":54,"data":{"name":"tbl"},"transform":[{"filter":"datum.t==2 && datum.col=='SNPs'"}],"encoding":{"y":{"field":"row","type":"nominal","scale":{"domain":["h","v"],"paddingInner":0,"paddingOuter":0},"axis":null}},"layer":[{"mark":{"type":"rect","fill":"white","stroke":"black","strokeWidth":2,"clip":true}},{"mark":{"type":"text","font":"Liberation Serif","fontSize":16,"color":"black"},"encoding":{"text":{"field":"txt"}}}]}
]},
{"spacing":0,"vconcat":[
{"width":957,"height":20,"title":"Chr 17","encoding":{"x":{"field":"s","type":"quantitative","scale":{"domain":[0,957],"nice":false,"zero":false},"axis":null},"x2":{"field":"e"}},"layer":[
{"data":{"name":"chrom"},"transform":[{"filter":"datum.c==17"}],"mark":{"type":"rect","color":"#ffff00"}},
{"data":{"name":"none"},"transform":[{"filter":"datum.c==17"}],"mark":{"type":"rect","color":"#ff4444"}},
{"data":{"name":"full"},"transform":[{"filter":"datum.c==17"}],"mark":{"type":"rect","color":"#00c800"}}]},
{"width":957,"height":15,"encoding":{"x":{"field":"s","type":"quantitative","scale":{"domain":[0,957],"nice":false,"zero":false},"axis":{"title":"Image size reduction: 1/14"}},"x2":{"field":"e"}},"layer":[
{"data":{"name":"chrom"},"transform":[{"filter":"datum.c==17"}],"mark":{"type":"rect","color":"#808080"}},
{"data":{"name":"match"},"transform":[{"filter":"datum.c==17"}],"mark":{"type":"rect","color":"#0000ff"}}]}
]}
]},
{"width":17,"height":617,"view":{"fill":"#f0f0f0","stroke":null},"data":{"values":[{"from":0.4976,"to":0.7423}]},"mark":{"type":"rect","color":"#a8a8a8","xOffset":2,"x2Offset":-2},"encoding":{"y":{"field":"from","type":"quantitative","scale":{"domain":[0,1],"reverse":true,"nice":false,"zero":false},"axis":null},"y2":{"field":"to"}}}
]}
]
}
